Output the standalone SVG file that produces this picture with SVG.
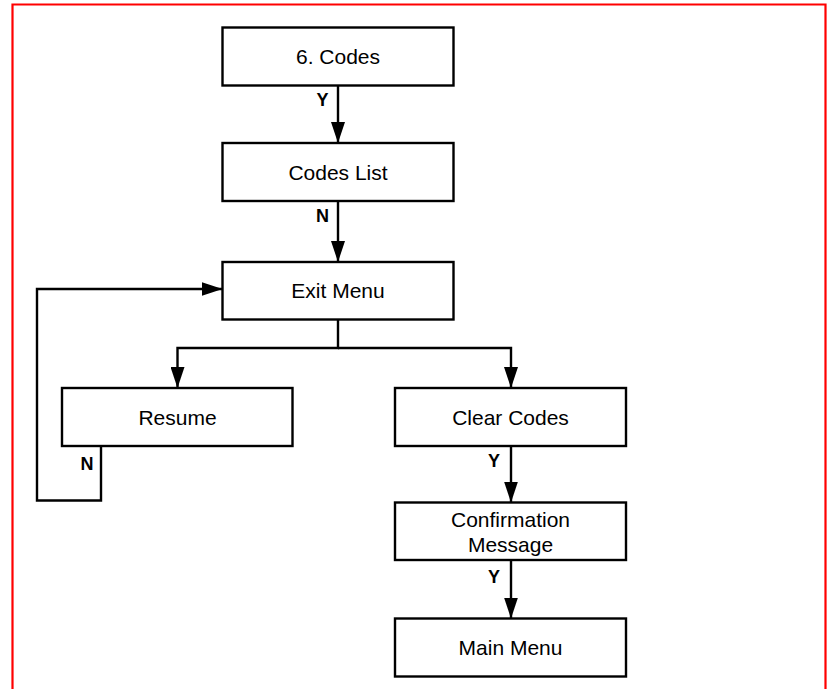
<svg xmlns="http://www.w3.org/2000/svg" width="827" height="689" viewBox="0 0 827 689">
<style>
.box{fill:#fff;stroke:#000;stroke-width:2.4}
.t{font-family:"Liberation Sans",Arial,sans-serif;font-size:21px;fill:#000;text-anchor:middle}
.l{font-family:"Liberation Sans",Arial,sans-serif;font-size:18px;font-weight:bold;fill:#000;text-anchor:middle}
.c{fill:none;stroke:#000;stroke-width:2.4}
</style>
<defs>
<marker id="ah" viewBox="0 0 21 14" refX="21" refY="7" markerWidth="21" markerHeight="14" markerUnits="userSpaceOnUse" orient="auto">
<path d="M0,0 L21,7 L0,14 Z" fill="#000"/>
</marker>
</defs>
<rect x="0" y="0" width="827" height="689" fill="#fff"/>
<path d="M12.5,689 V4.5 H825.5 V689" fill="none" stroke="#f00" stroke-width="2.2"/>
<g id="connectors">
<path class="c" d="M338,85.5 V143" marker-end="url(#ah)"/>
<path class="c" d="M338,201 V262" marker-end="url(#ah)"/>
<path class="c" d="M338,319.5 V348 H177.5 V388" marker-end="url(#ah)"/>
<path class="c" d="M338,348 H511 V388" marker-end="url(#ah)"/>
<path class="c" d="M101,446 V500.5 H37 V289 H222.5" marker-end="url(#ah)"/>
<path class="c" d="M511,446 V502.5" marker-end="url(#ah)"/>
<path class="c" d="M511,560 V618.5" marker-end="url(#ah)"/>
<text class="l" x="322.5" y="106">Y</text>
<text class="l" x="322.5" y="221.5">N</text>
<text class="l" x="87" y="469.5">N</text>
<text class="l" x="494" y="466.5">Y</text>
<text class="l" x="494" y="583">Y</text>
</g>
<g id="codes">
<rect class="box" x="222.5" y="27.5" width="231" height="58"/>
<text class="t" x="338" y="64">6. Codes</text>
</g>
<g id="codes-list">
<rect class="box" x="222.5" y="143" width="231" height="58"/>
<text class="t" x="338" y="179.5">Codes List</text>
</g>
<g id="exit-menu">
<rect class="box" x="222.5" y="262" width="231" height="57.5"/>
<text class="t" x="338" y="298">Exit Menu</text>
</g>
<g id="resume">
<rect class="box" x="62" y="388" width="230.5" height="58"/>
<text class="t" x="177.5" y="424.5">Resume</text>
</g>
<g id="clear-codes">
<rect class="box" x="395" y="388" width="231" height="58"/>
<text class="t" x="510.5" y="424.5">Clear Codes</text>
</g>
<g id="confirmation">
<rect class="box" x="395" y="502.5" width="231" height="57.5"/>
<text class="t" x="510.5" y="526.5">Confirmation</text>
<text class="t" x="510.5" y="551.5">Message</text>
</g>
<g id="main-menu">
<rect class="box" x="395" y="618.5" width="231" height="58"/>
<text class="t" x="510.5" y="654.5">Main Menu</text>
</g>
</svg>
